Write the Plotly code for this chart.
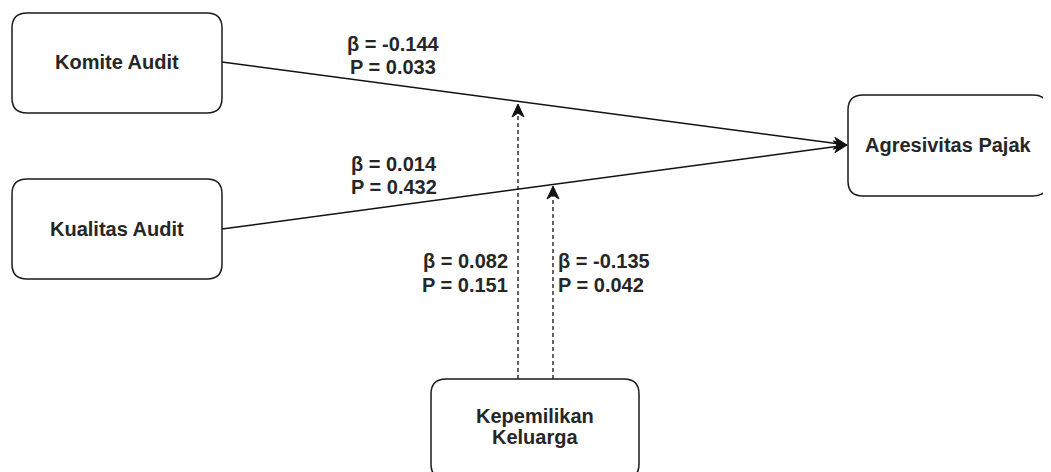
import plotly.graph_objects as go
import math

# ---- data ----
node_names = ["Komite Audit", "Kualitas Audit", "Agresivitas Pajak", "Kepemilikan Keluarga"]
direct_beta = [-0.144, 0.014]
direct_p = [0.033, 0.432]
moder_beta = [0.082, -0.135]
moder_p = [0.151, 0.042]

# ---- layout (pixel geometry) ----
W, H = 1051, 472
OFF = 8  # page body margin
boxes = {
    "Komite Audit": (12, 13, 222, 113),
    "Kualitas Audit": (12, 179, 222, 279),
    "Agresivitas Pajak": (848, 95, 1048, 196),
    "Kepemilikan Keluarga": (431, 379, 639, 479),
}
FONT = "Liberation Sans, Arial, sans-serif"
TXT = "#262626"
FS = 20

fig = go.Figure()
shapes = []
annots = []


def rrect(x0, y0, x1, y1, r=15):
    return (f"M {x0+r},{y0} L {x1-r},{y0} Q {x1},{y0} {x1},{y0+r} "
            f"L {x1},{y1-r} Q {x1},{y1} {x1-r},{y1} L {x0+r},{y1} "
            f"Q {x0},{y1} {x0},{y1-r} L {x0},{y0+r} Q {x0},{y0} {x0+r},{y0} Z")


for name in node_names:
    x0, y0, x1, y1 = boxes[name]
    shapes.append(dict(type="path", path=rrect(x0, y0, x1, y1), line=dict(color="#1a1a1a", width=1.5),
                       fillcolor="white", layer="below"))

# node labels
label_lines = {
    "Komite Audit": [("Komite Audit", 62)],
    "Kualitas Audit": [("Kualitas Audit", 229)],
    "Agresivitas Pajak": [("Agresivitas Pajak", 145)],
    "Kepemilikan Keluarga": [("Kepemilikan", 416), ("Keluarga", 437)],
}
for name in node_names:
    x0, y0, x1, y1 = boxes[name]
    for t, yy in label_lines[name]:
        annots.append(dict(x=(x0 + x1) / 2, y=yy, text=f"<b>{t}</b>", showarrow=False,
                           font=dict(family=FONT, size=FS, color=TXT), xanchor="center", yanchor="middle"))


def arrowhead(tx, ty, dx, dy, L=13, hw=5.5, notch=0.7):
    n = math.hypot(dx, dy)
    ux, uy = dx / n, dy / n
    px, py = -uy, ux
    bx, by = tx - ux * L, ty - uy * L
    nx, ny = tx - ux * L * notch, ty - uy * L * notch
    path = (f"M {tx},{ty} L {bx+px*hw},{by+py*hw} L {nx},{ny} L {bx-px*hw},{by-py*hw} Z")
    return path, (nx, ny)


# direct paths
target = (847, 145)
starts = [(222, 62), (222, 229)]
for (sx, sy) in starts:
    path, (nx, ny) = arrowhead(target[0], target[1], target[0] - sx, target[1] - sy, L=13, hw=6)
    shapes.append(dict(type="line", x0=sx, y0=sy, x1=nx, y1=ny, line=dict(color="#111111", width=1.5)))
    shapes.append(dict(type="path", path=path, fillcolor="#111111", line=dict(color="#111111", width=1)))

# moderating dashed arrows
mod_x = [518, 553]
mod_tip = [104, 186]
for mx, tip in zip(mod_x, mod_tip):
    path, (nx, ny) = arrowhead(mx, tip, 0, -1, L=13, hw=6, notch=0.7)
    shapes.append(dict(type="line", x0=mx, y0=379, x1=mx, y1=ny, line=dict(color="#111111", width=1.3, dash="4px,3px")))
    shapes.append(dict(type="path", path=path, fillcolor="#111111", line=dict(color="#111111", width=1)))

# coefficient labels
direct_pos = [(393, "center", 44, 67), (349, "left", 164, 187)]
for (b, p, (x, xa, yb, yp)) in zip(direct_beta, direct_p, direct_pos):
    annots.append(dict(x=x, y=yb, text=f"<b>β = {b:.3f}</b>", showarrow=False, xanchor=xa, yanchor="middle",
                       font=dict(family=FONT, size=FS, color=TXT)))
    annots.append(dict(x=x, y=yp, text=f"<b>P = {p:.3f}</b>", showarrow=False, xanchor=xa, yanchor="middle",
                       font=dict(family=FONT, size=FS, color=TXT)))

moder_pos = [(510, "right", 261, 285), (556, "left", 261, 285)]
for (b, p, (x, xa, yb, yp)) in zip(moder_beta, moder_p, moder_pos):
    annots.append(dict(x=x, y=yb, text=f"<b>β = {b:.3f}</b>", showarrow=False, xanchor=xa, yanchor="middle",
                       font=dict(family=FONT, size=FS, color=TXT)))
    annots.append(dict(x=x, y=yp, text=f"<b>P = {p:.3f}</b>", showarrow=False, xanchor=xa, yanchor="middle",
                       font=dict(family=FONT, size=FS, color=TXT)))

fig.update_layout(
    width=W, height=H, margin=dict(l=0, r=0, t=0, b=0),
    paper_bgcolor="white", plot_bgcolor="white",
    xaxis=dict(range=[OFF, W + OFF], visible=False, fixedrange=True),
    yaxis=dict(range=[H + OFF, OFF], visible=False, fixedrange=True),
    shapes=shapes, annotations=annots, showlegend=False,
)
fig.write_html("out.html", config={"displayModeBar": False})
